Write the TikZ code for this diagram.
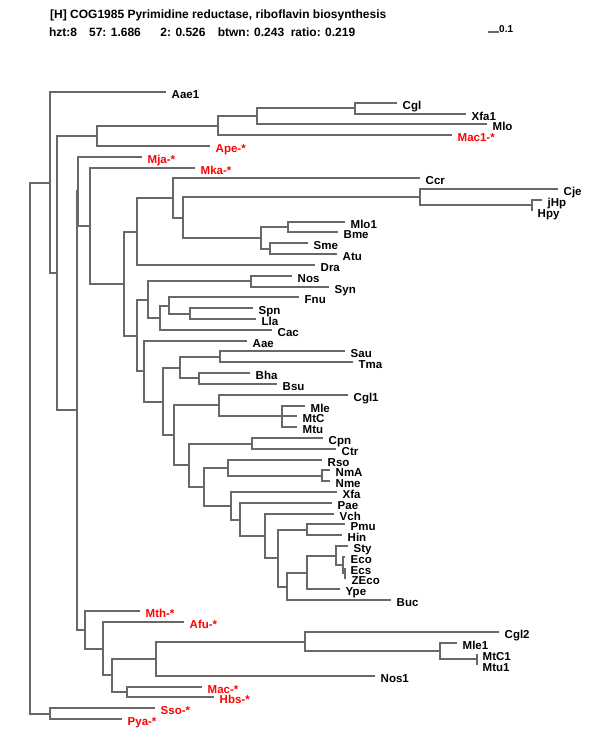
\documentclass[tikz,border=0pt]{standalone}
\usepackage{fontspec}
\setmainfont{Liberation Sans}
\usepackage{xcolor}
\usepackage{tikz}
\definecolor{treegray}{RGB}{104,104,104}
\definecolor{archred} {RGB}{255,0,0}
\tikzset{
  branch/.style  ={draw=treegray, line width=2pt},
  taxon/.style   ={anchor=west, inner xsep=5.5pt, inner ysep=0pt,
                   text height=8pt, text depth=2pt, yshift=-3.5pt,
                   font=\bfseries\fontsize{11.5}{12}\selectfont},
  redtaxon/.style={taxon, text=archred},
  headline/.style={anchor=base west, inner sep=0pt,
                   font=\bfseries\fontsize{12}{14}\selectfont},
  statline/.style={headline, anchor=base},
  scalebar/.style={draw=treegray, line width=1.3pt},
  scalelbl/.style={anchor=base west, inner sep=0pt,
                   font=\bfseries\fontsize{10}{11}\selectfont},
}

\begin{document}
\begin{tikzpicture}[x=1pt,y=-1pt]
  \useasboundingbox (0,0) rectangle (600,750);
  % header
  \node[headline] (title) at (50,18)    {[H] COG1985 Pyrimidine reductase, riboflavin biosynthesis};
  \node[statline] (hzt)   at (63,36.5)  {hzt:8};
  \node[statline] (s57)   at (115,36.5) {57: 1.686};
  \node[statline] (s2)    at (183,36.5) {2: 0.526};
  \node[statline] (btwn)  at (251,36.5) {btwn: 0.243};
  \node[statline] (ratio) at (323,36.5) {ratio: 0.219};
  % scale bar
  \coordinate (sb0) at (488,32);
  \coordinate (sb1) at (499,32);
  \draw[scalebar] (sb0) -- (sb1);
  \node[scalelbl] (sbtxt) at (499,32.5) {0.1};

  % leaves (tips)
  \coordinate (Aae1) at (166,92);  \node[taxon]    (tAae1) at (Aae1) {Aae1};
  \coordinate (Cgl)  at (397,103); \node[taxon]    (tCgl)  at (Cgl)  {Cgl};
  \coordinate (Xfa1) at (466,114); \node[taxon]    (tXfa1) at (Xfa1) {Xfa1};
  \coordinate (Mlo)  at (487,124); \node[taxon]    (tMlo)  at (Mlo)  {Mlo};
  \coordinate (Mac1) at (452,135); \node[redtaxon] (tMac1) at (Mac1) {Mac1-*};
  \coordinate (Ape)  at (210,146); \node[redtaxon] (tApe)  at (Ape)  {Ape-*};
  \coordinate (Mja)  at (142,157); \node[redtaxon] (tMja)  at (Mja)  {Mja-*};
  \coordinate (Mka)  at (195,168); \node[redtaxon] (tMka)  at (Mka)  {Mka-*};
  \coordinate (Ccr)  at (420,178); \node[taxon]    (tCcr)  at (Ccr)  {Ccr};
  \coordinate (Cje)  at (558,189); \node[taxon]    (tCje)  at (Cje)  {Cje};
  \coordinate (jHp)  at (542,200); \node[taxon]    (tjHp)  at (jHp)  {jHp};
  \coordinate (Hpy)  at (532,211); \node[taxon]    (tHpy)  at (Hpy)  {Hpy};
  \coordinate (Mlo1) at (345,222); \node[taxon]    (tMlo1) at (Mlo1) {Mlo1};
  \coordinate (Bme)  at (338,232); \node[taxon]    (tBme)  at (Bme)  {Bme};
  \coordinate (Sme)  at (308,243); \node[taxon]    (tSme)  at (Sme)  {Sme};
  \coordinate (Atu)  at (337,254); \node[taxon]    (tAtu)  at (Atu)  {Atu};
  \coordinate (Dra)  at (315,265); \node[taxon]    (tDra)  at (Dra)  {Dra};
  \coordinate (Nos)  at (292,276); \node[taxon]    (tNos)  at (Nos)  {Nos};
  \coordinate (Syn)  at (329,287); \node[taxon]    (tSyn)  at (Syn)  {Syn};
  \coordinate (Fnu)  at (299,297); \node[taxon]    (tFnu)  at (Fnu)  {Fnu};
  \coordinate (Spn)  at (253,308); \node[taxon]    (tSpn)  at (Spn)  {Spn};
  \coordinate (Lla)  at (256,319); \node[taxon]    (tLla)  at (Lla)  {Lla};
  \coordinate (Cac)  at (272,330); \node[taxon]    (tCac)  at (Cac)  {Cac};
  \coordinate (Aae)  at (247,341); \node[taxon]    (tAae)  at (Aae)  {Aae};
  \coordinate (Sau)  at (345,351); \node[taxon]    (tSau)  at (Sau)  {Sau};
  \coordinate (Tma)  at (353,362); \node[taxon]    (tTma)  at (Tma)  {Tma};
  \coordinate (Bha)  at (250,373); \node[taxon]    (tBha)  at (Bha)  {Bha};
  \coordinate (Bsu)  at (277,384); \node[taxon]    (tBsu)  at (Bsu)  {Bsu};
  \coordinate (Cgl1) at (348,395); \node[taxon]    (tCgl1) at (Cgl1) {Cgl1};
  \coordinate (Mle)  at (305,406); \node[taxon]    (tMle)  at (Mle)  {Mle};
  \coordinate (MtC)  at (297,416); \node[taxon]    (tMtC)  at (MtC)  {MtC};
  \coordinate (Mtu)  at (297,427); \node[taxon]    (tMtu)  at (Mtu)  {Mtu};
  \coordinate (Cpn)  at (323,438); \node[taxon]    (tCpn)  at (Cpn)  {Cpn};
  \coordinate (Ctr)  at (336,449); \node[taxon]    (tCtr)  at (Ctr)  {Ctr};
  \coordinate (Rso)  at (322,460); \node[taxon]    (tRso)  at (Rso)  {Rso};
  \coordinate (NmA)  at (330,470); \node[taxon]    (tNmA)  at (NmA)  {NmA};
  \coordinate (Nme)  at (330,481); \node[taxon]    (tNme)  at (Nme)  {Nme};
  \coordinate (Xfa)  at (337,492); \node[taxon]    (tXfa)  at (Xfa)  {Xfa};
  \coordinate (Pae)  at (332,503); \node[taxon]    (tPae)  at (Pae)  {Pae};
  \coordinate (Vch)  at (334,514); \node[taxon]    (tVch)  at (Vch)  {Vch};
  \coordinate (Pmu)  at (345,524); \node[taxon]    (tPmu)  at (Pmu)  {Pmu};
  \coordinate (Hin)  at (342,535); \node[taxon]    (tHin)  at (Hin)  {Hin};
  \coordinate (Sty)  at (348,546); \node[taxon]    (tSty)  at (Sty)  {Sty};
  \coordinate (Eco)  at (345,557); \node[taxon]    (tEco)  at (Eco)  {Eco};
  \coordinate (Ecs)  at (345,568); \node[taxon]    (tEcs)  at (Ecs)  {Ecs};
  \coordinate (ZEco) at (346,578); \node[taxon]    (tZEco) at (ZEco) {ZEco};
  \coordinate (Ype)  at (340,589); \node[taxon]    (tYpe)  at (Ype)  {Ype};
  \coordinate (Buc)  at (391,600); \node[taxon]    (tBuc)  at (Buc)  {Buc};
  \coordinate (Mth)  at (140,611); \node[redtaxon] (tMth)  at (Mth)  {Mth-*};
  \coordinate (Afu)  at (184,622); \node[redtaxon] (tAfu)  at (Afu)  {Afu-*};
  \coordinate (Cgl2) at (499,632); \node[taxon]    (tCgl2) at (Cgl2) {Cgl2};
  \coordinate (Mle1) at (457,643); \node[taxon]    (tMle1) at (Mle1) {Mle1};
  \coordinate (MtC1) at (477,654); \node[taxon]    (tMtC1) at (MtC1) {MtC1};
  \coordinate (Mtu1) at (477,665); \node[taxon]    (tMtu1) at (Mtu1) {Mtu1};
  \coordinate (Nos1) at (375,676); \node[taxon]    (tNos1) at (Nos1) {Nos1};
  \coordinate (Mac)  at (202,687); \node[redtaxon] (tMac)  at (Mac)  {Mac-*};
  \coordinate (Hbs)  at (214,697); \node[redtaxon] (tHbs)  at (Hbs)  {Hbs-*};
  \coordinate (Sso)  at (155,708); \node[redtaxon] (tSso)  at (Sso)  {Sso-*};
  \coordinate (Pya)  at (122,719); \node[redtaxon] (tPya)  at (Pya)  {Pya-*};

  % internal nodes
  \coordinate (root) at (30,448);
  \coordinate (t1)   at (50,183);
  \coordinate (t2)   at (57,273);
  \coordinate (g1)   at (97,136);
  \coordinate (g2)   at (218,126);
  \coordinate (g3)   at (257,116);
  \coordinate (cx)   at (355,108);
  \coordinate (b1)   at (77,410);
  \coordinate (m1)   at (78,191);
  \coordinate (m2)   at (90,226);
  \coordinate (n1)   at (124,284);
  \coordinate (n2)   at (137,232);
  \coordinate (n3)   at (173,198);
  \coordinate (n4)   at (183,218);
  \coordinate (hp1)  at (420,197);
  \coordinate (hp2)  at (532,205);
  \coordinate (rh1)  at (261,238);
  \coordinate (rh2)  at (288,227);
  \coordinate (rh3)  at (270,249);
  \coordinate (n5)   at (137,336);
  \coordinate (n6)   at (148,300);
  \coordinate (cy)   at (251,281);
  \coordinate (n7)   at (160,318);
  \coordinate (n8)   at (169,306);
  \coordinate (lb)   at (190,314);
  \coordinate (n9)   at (144,371);
  \coordinate (n10)  at (163,402);
  \coordinate (n11)  at (180,368);
  \coordinate (st)   at (220,357);
  \coordinate (ba)   at (199,378);
  \coordinate (n12)  at (174,435);
  \coordinate (n13)  at (219,405);
  \coordinate (my)   at (282,416);
  \coordinate (n14)  at (189,465);
  \coordinate (ch)   at (252,444);
  \coordinate (n15)  at (204,487);
  \coordinate (n16)  at (228,468);
  \coordinate (ne)   at (322,476);
  \coordinate (n17)  at (231,506);
  \coordinate (n18)  at (240,520);
  \coordinate (n19)  at (265,536);
  \coordinate (n20)  at (278,558);
  \coordinate (pa)   at (307,530);
  \coordinate (n21)  at (287,587);
  \coordinate (n22)  at (307,573);
  \coordinate (en1)  at (336,556);
  \coordinate (en2)  at (343,565);
  \coordinate (en3)  at (345,573);
  \coordinate (l1)   at (85,630);
  \coordinate (l2)   at (103,649);
  \coordinate (l3)   at (112,675);
  \coordinate (l4)   at (156,659);
  \coordinate (l5)   at (305,642);
  \coordinate (l6)   at (440,651);
  \coordinate (mt)   at (477,659);
  \coordinate (l7)   at (127,692);
  \coordinate (sp)   at (50,714);

  % branches
  \draw[branch] (root) |- (t1)  (root) |- (sp);
  \draw[branch] (t1) |- (Aae1)  (t1) |- (t2);
  \draw[branch] (t2) |- (g1)    (t2) |- (b1);
  \draw[branch] (g1) |- (g2)    (g1) |- (Ape);
  \draw[branch] (g2) |- (g3)    (g2) |- (Mac1);
  \draw[branch] (g3) |- (cx)    (g3) |- (Mlo);
  \draw[branch] (cx) |- (Cgl)   (cx) |- (Xfa1);
  \draw[branch] (b1) |- (m1)    (b1) |- (l1);
  \draw[branch] (m1) |- (Mja)   (m1) |- (m2);
  \draw[branch] (m2) |- (Mka)   (m2) |- (n1);
  \draw[branch] (n1) |- (n2)    (n1) |- (n5);
  \draw[branch] (n2) |- (n3)    (n2) |- (Dra);
  \draw[branch] (n3) |- (Ccr)   (n3) |- (n4);
  \draw[branch] (n4) |- (hp1)   (n4) |- (rh1);
  \draw[branch] (hp1) |- (Cje)  (hp1) |- (hp2);
  \draw[branch] (hp2) |- (jHp)  (hp2) |- (Hpy);
  \draw[branch] (rh1) |- (rh2)  (rh1) |- (rh3);
  \draw[branch] (rh2) |- (Mlo1) (rh2) |- (Bme);
  \draw[branch] (rh3) |- (Sme)  (rh3) |- (Atu);
  \draw[branch] (n5) |- (n6)    (n5) |- (n9);
  \draw[branch] (n6) |- (cy)    (n6) |- (n7);
  \draw[branch] (cy) |- (Nos)   (cy) |- (Syn);
  \draw[branch] (n7) |- (n8)    (n7) |- (Cac);
  \draw[branch] (n8) |- (Fnu)   (n8) |- (lb);
  \draw[branch] (lb) |- (Spn)   (lb) |- (Lla);
  \draw[branch] (n9) |- (Aae)   (n9) |- (n10);
  \draw[branch] (n10) |- (n11)  (n10) |- (n12);
  \draw[branch] (n11) |- (st)   (n11) |- (ba);
  \draw[branch] (st) |- (Sau)   (st) |- (Tma);
  \draw[branch] (ba) |- (Bha)   (ba) |- (Bsu);
  \draw[branch] (n12) |- (n13)  (n12) |- (n14);
  \draw[branch] (n13) |- (Cgl1) (n13) |- (my);
  \draw[branch] (my) |- (Mle)   (my) -- (MtC)  (my) |- (Mtu);
  \draw[branch] (n14) |- (ch)   (n14) |- (n15);
  \draw[branch] (ch) |- (Cpn)   (ch) |- (Ctr);
  \draw[branch] (n15) |- (n16)  (n15) |- (n17);
  \draw[branch] (n16) |- (Rso)  (n16) |- (ne);
  \draw[branch] (ne) |- (NmA)   (ne) |- (Nme);
  \draw[branch] (n17) |- (Xfa)  (n17) |- (n18);
  \draw[branch] (n18) |- (Pae)  (n18) |- (n19);
  \draw[branch] (n19) |- (Vch)  (n19) |- (n20);
  \draw[branch] (n20) |- (pa)   (n20) |- (n21);
  \draw[branch] (pa) |- (Pmu)   (pa) |- (Hin);
  \draw[branch] (n21) |- (n22)  (n21) |- (Buc);
  \draw[branch] (n22) |- (en1)  (n22) |- (Ype);
  \draw[branch] (en1) |- (Sty)  (en1) |- (en2);
  \draw[branch] (en2) |- (Eco)  (en2) |- (en3);
  \draw[branch] (en3) |- (Ecs)  (en3) |- (ZEco);
  \draw[branch] (l1) |- (Mth)   (l1) |- (l2);
  \draw[branch] (l2) |- (Afu)   (l2) |- (l3);
  \draw[branch] (l3) |- (l4)    (l3) |- (l7);
  \draw[branch] (l4) |- (l5)    (l4) |- (Nos1);
  \draw[branch] (l5) |- (Cgl2)  (l5) |- (l6);
  \draw[branch] (l6) |- (Mle1)  (l6) |- (mt);
  \draw[branch] (mt) |- (MtC1)  (mt) |- (Mtu1);
  \draw[branch] (l7) |- (Mac)   (l7) |- (Hbs);
  \draw[branch] (sp) |- (Sso)   (sp) |- (Pya);
\end{tikzpicture}
\end{document}
